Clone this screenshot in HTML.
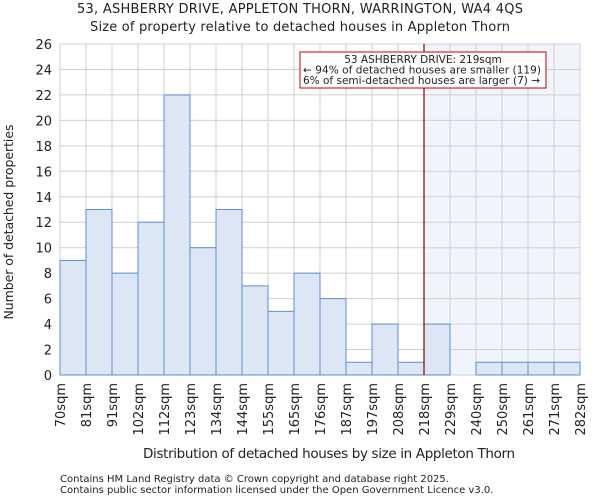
<!DOCTYPE html>
<html><head><meta charset="utf-8"><style>
body{margin:0;background:#fff;font-family:"DejaVu Sans","Liberation Sans",sans-serif;}
svg text{font-family:"DejaVu Sans","Liberation Sans",sans-serif;fill:#222;}
</style></head><body>
<svg id="c" width="600" height="500">
<text x="300" y="13" font-size="13" text-anchor="middle" textLength="446">53, ASHBERRY DRIVE, APPLETON THORN, WARRINGTON, WA4 4QS</text>
<text x="300" y="31" font-size="13" text-anchor="middle" textLength="420">Size of property relative to detached houses in Appleton Thorn</text>
<g id="plot"></g>
<text x="329" y="458" font-size="13.5" text-anchor="middle" textLength="372">Distribution of detached houses by size in Appleton Thorn</text>
<text transform="translate(13,222) rotate(-90)" font-size="12.5" text-anchor="middle" textLength="195">Number of detached properties</text>
<text x="60" y="482" font-size="10">Contains HM Land Registry data © Crown copyright and database right 2025.</text>
<text x="60" y="493" font-size="10">Contains public sector information licensed under the Open Government Licence v3.0.</text>
</svg>
<script>
const categories=["70sqm","81sqm","91sqm","102sqm","112sqm","123sqm","134sqm","144sqm","155sqm","165sqm","176sqm","187sqm","197sqm","208sqm","218sqm","229sqm","240sqm","250sqm","261sqm","271sqm","282sqm"];
const counts=[9,13,8,12,22,10,13,7,5,8,6,1,4,1,4,0,1,1,1,1];
const yTicks=[0,2,4,6,8,10,12,14,16,18,20,22,24,26];
const markerIndex=14;
const NS="http://www.w3.org/2000/svg";
const L=60,R=580,T=44,B=375,yMax=26;
const bw=(R-L)/counts.length;
const x=i=>L+i*bw, y=v=>B-(v/yMax)*(B-T);
const g=document.getElementById('plot');
function mk(t,a){const e=document.createElementNS(NS,t);for(const k in a)e.setAttribute(k,a[k]);g.appendChild(e);return e;}
let e=mk('rect',{x:x(markerIndex),y:T,width:R-x(markerIndex),height:B-T,fill:'#f0f4fc'});


yTicks.forEach(v=>{let l=mk('line',{x1:L,x2:R,y1:y(v),y2:y(v),stroke:'#d0d0d0','stroke-width':1});


let t=mk('text',{x:L-8,y:y(v)+5,'font-size':13,'text-anchor':'end'});t.textContent=v;

});
categories.forEach((c,i)=>{let l=mk('line',{x1:x(i),x2:x(i),y1:T,y2:B,stroke:'#d0d0d0','stroke-width':1});


let t=mk('text',{transform:`translate(${x(i)+5},383) rotate(-90)`,'font-size':13,'text-anchor':'end'});t.textContent=c;

});
counts.forEach((v,i)=>{if(v<=0)return;let r=mk('rect',{x:x(i),y:y(v),width:bw,height:B-y(v),fill:'#dce6f4',stroke:'#5b8fd6','stroke-width':1});

});
e=mk('line',{x1:x(markerIndex),x2:x(markerIndex),y1:T,y2:B,stroke:'#800','stroke-width':1.2});


e=mk('rect',{x:300,y:52,width:246,height:36,fill:'#fff',stroke:'#c00','stroke-width':1});


[["53 ASHBERRY DRIVE: 219sqm",423,'middle',0],["← 94% of detached houses are smaller (119)",303,'start',238],["6% of semi-detached houses are larger (7) →",303,'start',237]].forEach((a,i)=>{
let t=mk('text',{x:a[1],y:63+i*10.5,'font-size':10.5,'text-anchor':a[2]});t.textContent=a[0];
if(a[3])t.setAttribute('textLength',a[3]);

});
</script>
</body></html>
